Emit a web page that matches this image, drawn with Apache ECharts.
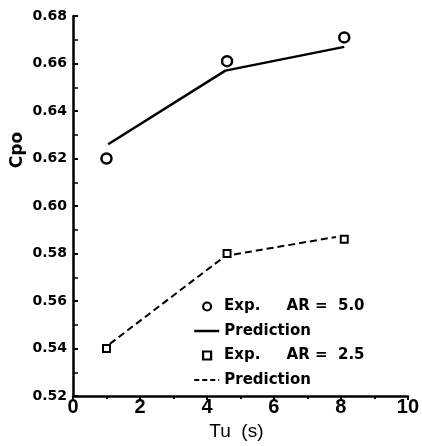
<!DOCTYPE html>
<html>
<head>
<meta charset="utf-8">
<script src="https://cdn.jsdelivr.net/npm/echarts@6/dist/echarts.min.js"></script>
<style>
  html, body { margin: 0; padding: 0; background: #fff; }
  #chart { width: 422px; height: 446px; }
</style>
</head>
<body>
<div id="chart"></div>
<script>
// Pressure coefficient Cpo against Tu (%) for two aspect ratios
const expX      = [1.0, 4.6, 8.1];
const expAR50   = [0.620, 0.661, 0.671];
const predX50   = [1.05, 4.55, 8.1];
const predAR50  = [0.626, 0.657, 0.667];
const expAR25   = [0.540, 0.580, 0.586];
const predX25   = [1.1, 4.55, 7.85];
const predAR25  = [0.542, 0.579, 0.587];

const yTicks = { min: 0.52, max: 0.68, step: 0.02 };
const xTicks = { min: 0, max: 10, step: 2 };

const legendNames = ['Exp.     AR =  5.0', 'Prediction', 'Exp.     AR =  2.5', 'Prediction '];

function pairs(xs, ys) { return xs.map((x, i) => [x, ys[i]]); }

const boldFont = 'DejaVu Sans';
const chart = echarts.init(document.getElementById('chart'), null, { renderer: 'canvas' });

// line-only legend keys: hide the dot drawn in the middle of the line icon
const noDot = { color: 'rgba(0,0,0,0)', borderWidth: 0, borderColor: 'rgba(0,0,0,0)' };
const legendText = { color: '#000', fontFamily: boldFont, fontWeight: 'bold', fontSize: 15, lineHeight: 15 };
const legendTop = 299;
const rowStep = 24.5;

chart.setOption({
  backgroundColor: '#fff',
  animation: false,
  grid: { left: 73, right: 11, top: 16, bottom: 44, containLabel: false },
  xAxis: {
    type: 'value',
    min: xTicks.min, max: xTicks.max, interval: xTicks.step,
    name: 'Tu  (s)',
    nameLocation: 'middle',
    nameGap: 22,
    nameTextStyle: { fontFamily: 'Liberation Sans', fontSize: 19, color: '#000', padding: [0, 8, 0, 0] },
    axisLine: { show: true, onZero: false, lineStyle: { color: '#000', width: 2.5 } },
    axisTick: { show: true, inside: false, length: 4, lineStyle: { color: '#000', width: 2 } },
    minorTick: { show: true, splitNumber: 2, length: 3, lineStyle: { color: '#000', width: 2 } },
    splitLine: { show: false },
    axisLabel: { color: '#000', fontFamily: 'Liberation Sans', fontWeight: 'bold', fontSize: 20, margin: 1 }
  },
  yAxis: {
    type: 'value',
    min: yTicks.min, max: yTicks.max, interval: yTicks.step,
    axisLine: { show: true, onZero: false, lineStyle: { color: '#000', width: 2.5 } },
    axisTick: { show: true, inside: true, length: 5, lineStyle: { color: '#000', width: 2 } },
    minorTick: { show: true, splitNumber: 2, length: 5, lineStyle: { color: '#000', width: 1.5 } },
    splitLine: { show: false },
    axisLabel: {
      color: '#000', fontFamily: boldFont, fontWeight: 'bold', fontSize: 14, margin: 6,
      formatter: v => v.toFixed(2)
    }
  },
  legend: [
    {
      // marker keys (experiments)
      orient: 'vertical',
      left: 202, top: legendTop,
      padding: 0,
      itemWidth: 8, itemHeight: 8,
      itemGap: 2 * rowStep - 15,
      textStyle: Object.assign({ padding: [0, 0, 0, 8] }, legendText),
      data: [
        { name: legendNames[0], itemStyle: { borderWidth: 2.2 } },
        { name: legendNames[2], itemStyle: { borderWidth: 2.2 } }
      ]
    },
    {
      // line keys (predictions)
      orient: 'vertical',
      left: 193, top: legendTop + rowStep,
      padding: 0,
      itemWidth: 25, itemHeight: 8,
      itemGap: 2 * rowStep - 15,
      textStyle: legendText,
      data: [
        { name: legendNames[1], itemStyle: noDot, lineStyle: { width: 2.5 } },
        { name: legendNames[3], itemStyle: noDot, lineStyle: { width: 2, type: [5, 3] } }
      ]
    }
  ],
  graphic: [{
    type: 'text',
    x: 18, y: 150,
    rotation: Math.PI / 2,
    style: {
      text: 'Cpo',
      fill: '#000',
      font: 'bold 17px "DejaVu Sans"',
      align: 'center',
      verticalAlign: 'middle'
    }
  }],
  series: [
    {
      name: legendNames[0],
      type: 'scatter',
      data: pairs(expX, expAR50),
      symbol: 'circle', symbolSize: 10, symbolKeepAspect: true,
      itemStyle: { color: '#fff', borderColor: '#000', borderWidth: 2.5, opacity: 1 },
      z: 5
    },
    {
      name: legendNames[1],
      type: 'line',
      data: pairs(predX50, predAR50),
      symbol: 'none',
      lineStyle: { color: '#000', width: 2.5, type: 'solid' },
      itemStyle: { color: '#000' },
      z: 3
    },
    {
      name: legendNames[2],
      type: 'scatter',
      data: pairs(expX, expAR25),
      symbol: 'rect', symbolSize: 7, symbolKeepAspect: true,
      itemStyle: { color: '#fff', borderColor: '#000', borderWidth: 2, opacity: 1 },
      z: 5
    },
    {
      name: legendNames[3],
      type: 'line',
      data: pairs(predX25, predAR25),
      symbol: 'none',
      lineStyle: { color: '#000', width: 2, type: [7, 4] },
      itemStyle: { color: '#000' },
      z: 3
    }
  ]
});
</script>
</body>
</html>
